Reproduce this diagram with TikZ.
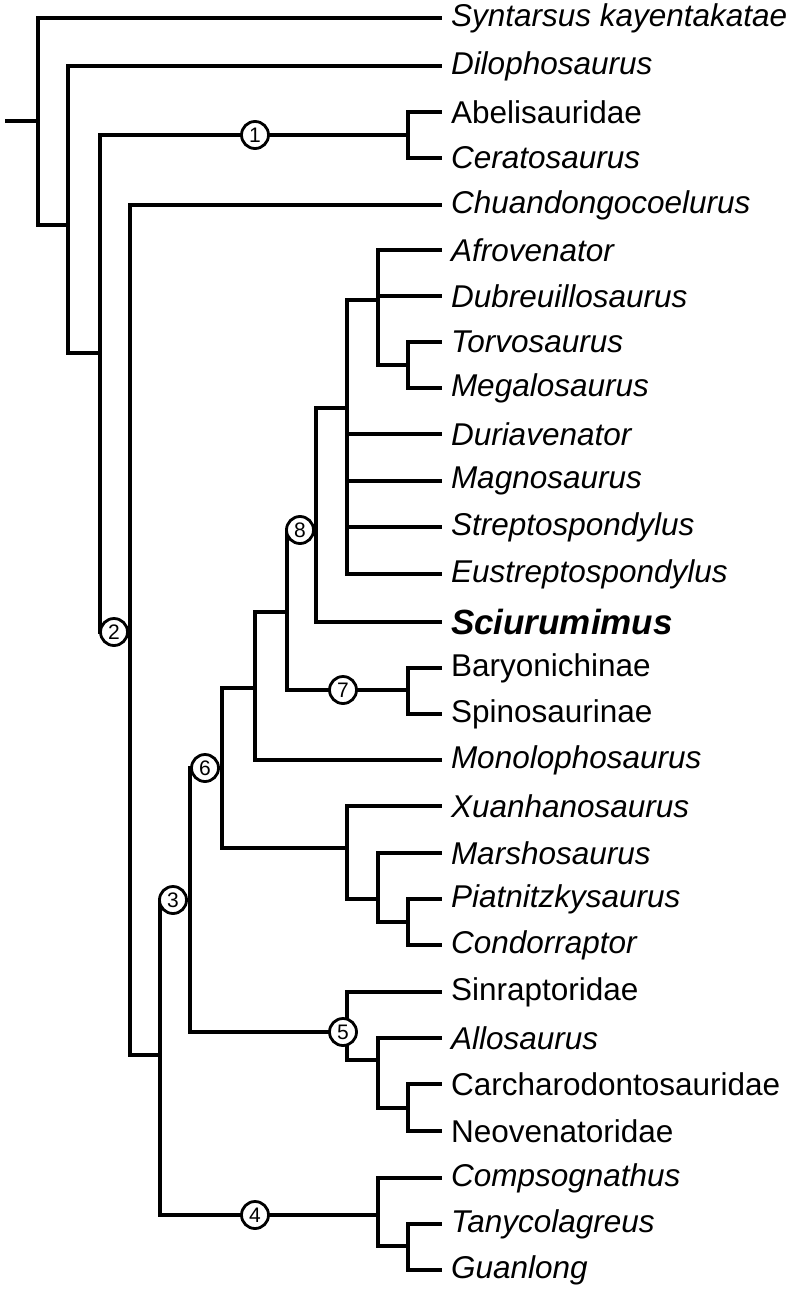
\documentclass[tikz,border=0pt]{standalone}
\usepackage{fontspec}
\setmainfont{Liberation Sans}
\usetikzlibrary{positioning}

\begin{document}
\begin{tikzpicture}[x=1pt,y=-1pt,line width=4pt]
\tikzset{taxon/.style = {anchor=west,inner xsep=9pt,inner ysep=0pt,font=\fontsize{31.5}{34}\selectfont}}
\tikzset{clade/.style = {shape=circle,draw,fill=white,line width=2.8pt,inner sep=0pt,minimum size=27pt,font=\fontsize{21}{21}\selectfont}}
\useasboundingbox (0,0) rectangle (797,1292);
% TAXA
\node[taxon] (syn) at (440,18) {\itshape Syntarsus kayentakatae};
\node[taxon] (dil) at (440,66) {\itshape Dilophosaurus};
\node[taxon] (abe) at (440,112) {Abelisauridae};
\node[taxon] (cer) at (440,158) {\itshape Ceratosaurus};
\node[taxon] (chu) at (440,205) {\itshape Chuandongocoelurus};
\node[taxon] (afr) at (440,250) {\itshape Afrovenator};
\node[taxon] (dub) at (440,296) {\itshape Dubreuillosaurus};
\node[taxon] (tor) at (440,342) {\itshape Torvosaurus};
\node[taxon] (meg) at (440,388) {\itshape Megalosaurus};
\node[taxon] (dur) at (440,434) {\itshape Duriavenator};
\node[taxon] (mag) at (440,481) {\itshape Magnosaurus};
\node[taxon] (str) at (440,527) {\itshape Streptospondylus};
\node[taxon] (eus) at (440,574) {\itshape Eustreptospondylus};
\node[taxon] (sci) at (440,622) {\fontsize{35}{38}\selectfont\bfseries\itshape Sciurumimus};
\node[taxon] (bar) at (440,668) {Baryonichinae};
\node[taxon] (spi) at (440,714) {Spinosaurinae};
\node[taxon] (mon) at (440,760) {\itshape Monolophosaurus};
\node[taxon] (xua) at (440,806) {\itshape Xuanhanosaurus};
\node[taxon] (mar) at (440,853) {\itshape Marshosaurus};
\node[taxon] (pia) at (440,899) {\itshape Piatnitzkysaurus};
\node[taxon] (con) at (440,945) {\itshape Condorraptor};
\node[taxon] (sin) at (440,992) {Sinraptoridae};
\node[taxon] (all) at (440,1038) {\itshape Allosaurus};
\node[taxon] (car) at (440,1084) {Carcharodontosauridae};
\node[taxon] (neo) at (440,1131) {Neovenatoridae};
\node[taxon] (com) at (440,1178) {\itshape Compsognathus};
\node[taxon] (tan) at (440,1224) {\itshape Tanycolagreus};
\node[taxon] (gua) at (440,1270) {\itshape Guanlong};
% INTERNAL NODES
\coordinate (base) at (5,121);
\coordinate (r) at (38,121);
\coordinate (n68) at (68,225);
\coordinate (n100) at (100,353);
\coordinate (c1) at (408,135);
\coordinate (n130) at (130,632);
\coordinate (n160) at (160,1055);
\coordinate (n190) at (190,900);
\coordinate (n222) at (222,768);
\coordinate (n255) at (255,688);
\coordinate (n287) at (287,612);
\coordinate (n316) at (316,530);
\coordinate (n347a) at (347,408);
\coordinate (n378a) at (378,300);
\coordinate (n408a) at (408,365);
\coordinate (c7) at (408,690);
\coordinate (n347b) at (347,848);
\coordinate (n378b) at (378,899);
\coordinate (n408b) at (408,922);
\coordinate (n347c) at (347,1032);
\coordinate (n378c) at (378,1060);
\coordinate (n408c) at (408,1108);
\coordinate (n378d) at (378,1215);
\coordinate (n408d) at (408,1246);
% BRANCHES
\draw (base) -- (r);
\foreach \p/\c in {r/syn.west, r/n68, n68/dil.west, n68/n100, n100/c1, n100/n130,
  c1/abe.west, c1/cer.west, n130/chu.west, n130/n160, n160/n190, n160/n378d,
  n190/n222, n190/n347c, n222/n255, n222/n347b, n255/n287, n255/mon.west,
  n287/n316, n287/c7, c7/bar.west, c7/spi.west, n316/n347a, n316/sci.west,
  n347a/n378a, n347a/dur.west, n347a/mag.west, n347a/str.west, n347a/eus.west,
  n378a/afr.west, n378a/dub.west, n378a/n408a, n408a/tor.west, n408a/meg.west,
  n347b/xua.west, n347b/n378b, n378b/mar.west, n378b/n408b, n408b/pia.west, n408b/con.west,
  n347c/sin.west, n347c/n378c, n378c/all.west, n378c/n408c, n408c/car.west, n408c/neo.west,
  n378d/com.west, n378d/n408d, n408d/tan.west, n408d/gua.west}
  \draw[line cap=rect] (\p) |- (\c);
% CLADE NUMBERS
\node[clade] (k1) at (255,135) {1};
\node[clade] (k2) at (114,632) {2};
\node[clade] (k3) at (173,900) {3};
\node[clade] (k4) at (255,1215) {4};
\node[clade] (k5) at (343,1032) {5};
\node[clade] (k6) at (205,768) {6};
\node[clade] (k7) at (343,690) {7};
\node[clade] (k8) at (300,530) {8};
\end{tikzpicture}
\end{document}
